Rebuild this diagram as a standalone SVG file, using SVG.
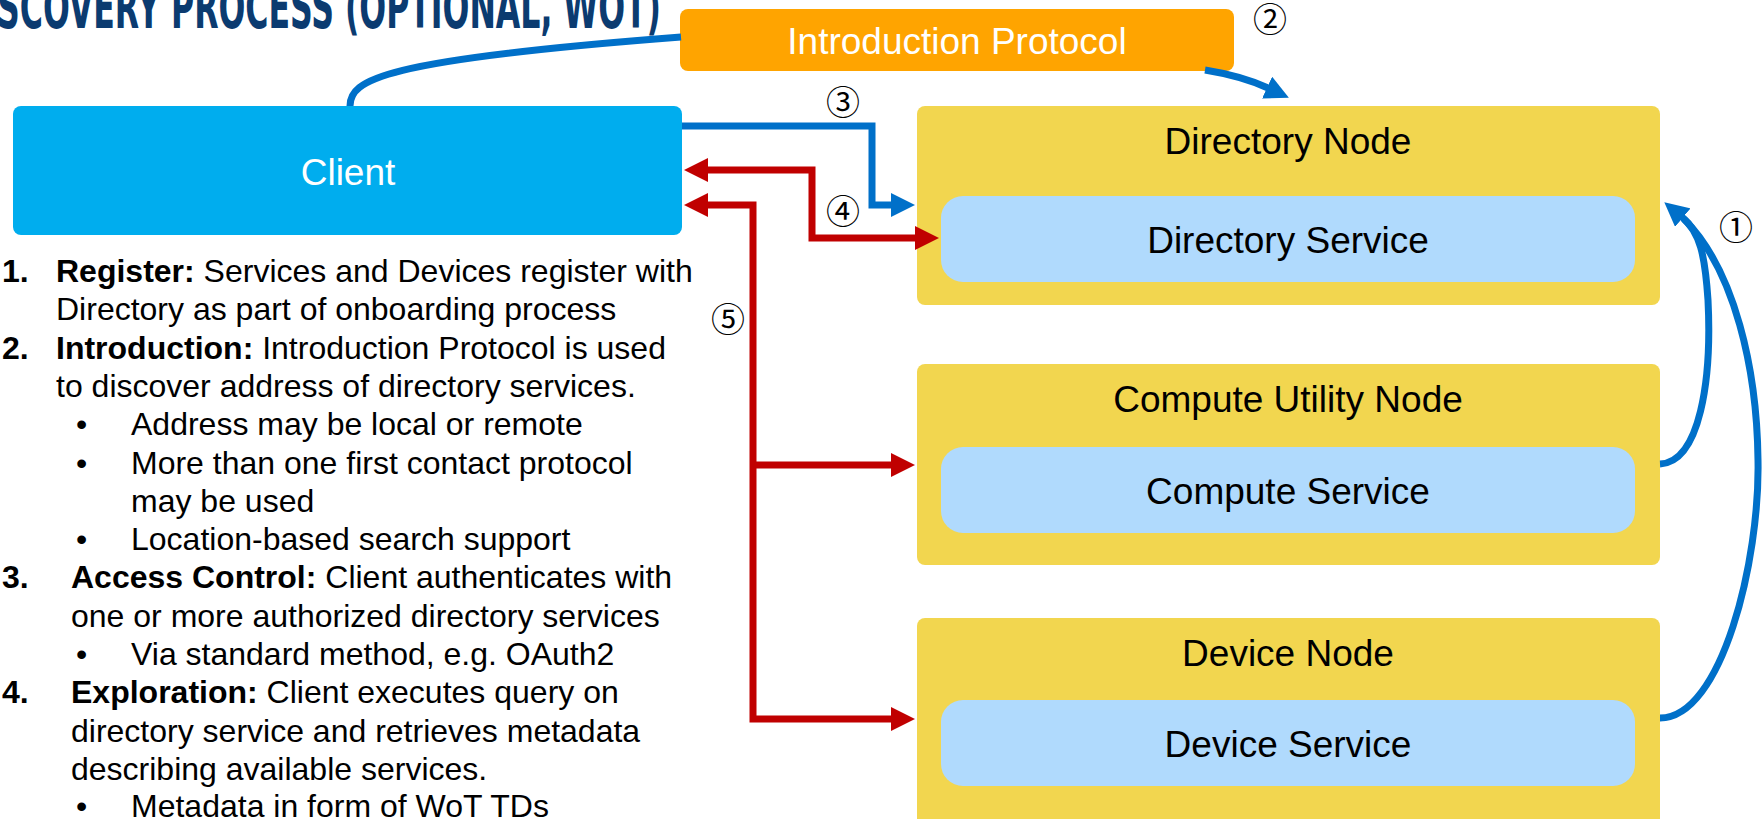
<svg xmlns="http://www.w3.org/2000/svg" width="1762" height="819" viewBox="0 0 1762 819">
  <style>
    .title { font-family: 'DejaVu Sans Condensed', 'Liberation Sans Narrow', 'DejaVu Sans', sans-serif; font-weight: bold; font-stretch: condensed; font-size: 58px; fill: #0B3B70; }
    .lbl { font-family: 'Liberation Sans', Arial, sans-serif; font-size: 37px; text-anchor: middle; }
    .lbl-w { fill: #FFFFFF; }
    .lbl-k { fill: #000000; }
    .list { font-family: 'Liberation Sans', Arial, sans-serif; font-size: 32px; fill: #000000; }
    .b { font-weight: bold; }
    .num { font-family: 'Noto Sans CJK JP', 'DejaVu Sans', sans-serif; font-size: 34px; fill: #000000; text-anchor: middle; }
    .client { fill: #00ADEE; }
    .proto { fill: #FFA400; }
    .node { fill: #F2D64F; }
    .svc { fill: #B0DAFD; }
    .blue { fill: none; stroke: #0070C9; stroke-width: 7; }
    .red { fill: none; stroke: #C00000; stroke-width: 7; }
  </style>
  <defs>
    <marker id="arrow-blue" markerUnits="userSpaceOnUse" viewBox="0 0 24 24" markerWidth="24" markerHeight="24" refX="1" refY="12" orient="auto-start-reverse">
      <path d="M0,0 L24,12 L0,24 z" fill="#0070C9"/>
    </marker>
    <marker id="arrow-red" markerUnits="userSpaceOnUse" viewBox="0 0 24 24" markerWidth="24" markerHeight="24" refX="1" refY="12" orient="auto-start-reverse">
      <path d="M0,0 L24,12 L0,24 z" fill="#C00000"/>
    </marker>
  </defs>

  <rect width="1762" height="819" fill="#FFFFFF"/>

  <!-- slide heading, partly cut off at the top-left edge -->
  <text class="title" x="-3" y="28" textLength="664" lengthAdjust="spacingAndGlyphs">SCOVERY PROCESS (OPTIONAL, WOT)</text>

  <!-- nodes -->
  <g id="client">
    <rect class="client" x="13" y="106" width="669" height="129" rx="8"/>
    <text class="lbl lbl-w" x="348" y="185">Client</text>
  </g>
  <g id="introduction-protocol">
    <rect class="proto" x="680" y="9" width="554" height="62" rx="8"/>
    <text class="lbl lbl-w" x="957" y="54">Introduction Protocol</text>
  </g>
  <g id="directory-node">
    <rect class="node" x="917" y="106" width="743" height="199" rx="8"/>
    <text class="lbl lbl-k" x="1288" y="154">Directory Node</text>
  </g>
  <g id="directory-service">
    <rect class="svc" x="941" y="196" width="694" height="86" rx="22"/>
    <text class="lbl lbl-k" x="1288" y="253">Directory Service</text>
  </g>
  <g id="compute-utility-node">
    <rect class="node" x="917" y="364" width="743" height="201" rx="8"/>
    <text class="lbl lbl-k" x="1288" y="412">Compute Utility Node</text>
  </g>
  <g id="compute-service">
    <rect class="svc" x="941" y="447" width="694" height="86" rx="22"/>
    <text class="lbl lbl-k" x="1288" y="504">Compute Service</text>
  </g>
  <g id="device-node">
    <rect class="node" x="917" y="618" width="743" height="230" rx="8"/>
    <text class="lbl lbl-k" x="1288" y="666">Device Node</text>
  </g>
  <g id="device-service">
    <rect class="svc" x="941" y="700" width="694" height="86" rx="22"/>
    <text class="lbl lbl-k" x="1288" y="757">Device Service</text>
  </g>

  <!-- connectors -->
  <g id="connectors">
    <!-- client to introduction protocol -->
    <path class="blue" d="M350,106 C350,80 380,60 681,37"/>
    <!-- (2) introduction protocol to directory node -->
    <path class="blue" d="M1205,70 Q1242,76 1268,88" marker-end="url(#arrow-blue)"/>
    <!-- (3) client to directory node -->
    <path class="blue" d="M682,126 H872 V205 H892" marker-end="url(#arrow-blue)"/>
    <!-- (4) client and directory service, both ways -->
    <path class="red" d="M707,170 H812 V238 H916" marker-start="url(#arrow-red)" marker-end="url(#arrow-red)"/>
    <!-- (5) client and the compute / device nodes -->
    <path class="red" d="M707,205 H753 V719 H892" marker-start="url(#arrow-red)" marker-end="url(#arrow-red)"/>
    <path class="red" d="M753,465 H892" marker-end="url(#arrow-red)"/>
    <!-- (1) registration of compute and device services with the directory -->
    <path class="blue" d="M1660,464 C1700,462 1712,380 1708,300 C1705,255 1700,232 1682,217" marker-end="url(#arrow-blue)"/>
    <path class="blue" d="M1660,718 C1722,718 1760,560 1758,460 C1757,370 1735,270 1684,219"/>
  </g>

  <!-- step numbers -->
  <text class="num" x="1736" y="240">①</text>
  <text class="num" x="1270" y="32">②</text>
  <text class="num" x="843" y="115">③</text>
  <text class="num" x="843" y="224">④</text>
  <text class="num" x="728" y="332">⑤</text>

  <!-- process description -->
  <g id="steps" class="list">
    <text x="2" y="282"><tspan class="b">1.</tspan></text>
    <text x="56" y="282"><tspan class="b">Register:</tspan> Services and Devices register with</text>
    <text x="56" y="320">Directory as part of onboarding process</text>
    <text x="2" y="359"><tspan class="b">2.</tspan></text>
    <text x="56" y="359"><tspan class="b">Introduction:</tspan> Introduction Protocol is used</text>
    <text x="56" y="397">to discover address of directory services.</text>
    <text x="76" y="435">•</text>
    <text x="131" y="435">Address may be local or remote</text>
    <text x="76" y="474">•</text>
    <text x="131" y="474">More than one first contact protocol</text>
    <text x="131" y="512">may be used</text>
    <text x="76" y="550">•</text>
    <text x="131" y="550">Location-based search support</text>
    <text x="2" y="588"><tspan class="b">3.</tspan></text>
    <text x="71" y="588"><tspan class="b">Access Control:</tspan> Client authenticates with</text>
    <text x="71" y="627">one or more authorized directory services</text>
    <text x="76" y="665">•</text>
    <text x="131" y="665">Via standard method, e.g. OAuth2</text>
    <text x="2" y="703"><tspan class="b">4.</tspan></text>
    <text x="71" y="703"><tspan class="b">Exploration:</tspan> Client executes query on</text>
    <text x="71" y="742">directory service and retrieves metadata</text>
    <text x="71" y="780">describing available services.</text>
    <text x="76" y="817">•</text>
    <text x="131" y="817">Metadata in form of WoT TDs</text>
  </g>
</svg>
